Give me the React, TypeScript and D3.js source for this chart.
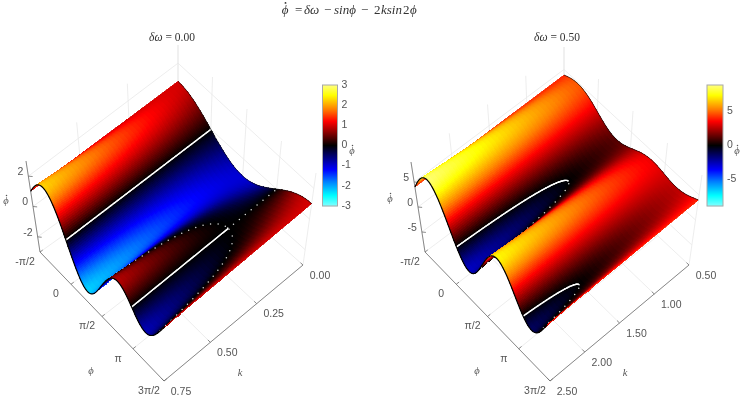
import React, { useMemo } from "react";
import * as d3 from "d3";

// Values at steps of pi/8 in phi (17 columns, first column = -pi/2)
const phiTickMultiples = [-0.5, 0, 0.5, 1, 1.5];
const phiTickLabels = ["-π/2", "0", "π/2", "π", "3π/2"];
const phiGridCount = 17;

const leftK = [0, 0.25, 0.5, 0.75];
const leftRow0 = [1, 0.924, 0.707, 0.383, 0, -0.383, -0.707, -0.924, -1, -0.924, -0.707, -0.383, 0, 0.383, 0.707, 0.924, 1];
const leftRow1 = [1, 1.278, 1.207, 0.737, 0, -0.737, -1.207, -1.278, -1, -0.57, -0.207, -0.029, 0, 0.029, 0.207, 0.57, 1];
const leftRow2 = [1, 1.631, 1.707, 1.09, 0, -1.09, -1.707, -1.631, -1, -0.217, 0.293, 0.324, 0, -0.324, -0.293, 0.217, 1];
const leftRow3 = [1, 1.985, 2.207, 1.444, 0, -1.444, -2.207, -1.985, -1, 0.137, 0.793, 0.678, 0, -0.678, -0.793, -0.137, 1];
const leftKTicks = ["0.00", "0.25", "0.50", "0.75"];
const leftZTicks = [-2, 0, 2];
const leftBarTicks = [-3, -2, -1, 0, 1, 2, 3];

const rightK = [0.5, 1, 1.5, 2, 2.5];
const rightRow0 = [4, 4.631, 4.707, 4.09, 3, 1.91, 1.293, 1.369, 2, 2.783, 3.293, 3.324, 3, 2.676, 2.707, 3.217, 4];
const rightRow1 = [4, 5.338, 5.707, 4.797, 3, 1.203, 0.293, 0.662, 2, 3.49, 4.293, 4.031, 3, 1.969, 1.707, 2.51, 4];
const rightRow2 = [4, 6.045, 6.707, 5.504, 3, 0.496, -0.707, -0.045, 2, 4.197, 5.293, 4.738, 3, 1.262, 0.707, 1.803, 4];
const rightRow3 = [4, 6.752, 7.707, 6.211, 3, -0.211, -1.707, -0.752, 2, 4.904, 6.293, 5.445, 3, 0.555, -0.293, 1.096, 4];
const rightRow4 = [4, 7.46, 8.707, 6.919, 3, -0.919, -2.707, -1.46, 2, 5.612, 7.293, 6.153, 3, -0.153, -1.293, 0.388, 4];
const rightKTicks = ["0.50", "1.00", "1.50", "2.00", "2.50"];
const rightZTicks = [-5, 0, 5];
const rightBarTicks = [-5, 0, 5];

const colorStops = [-1, -0.83, -0.6, -0.4, 0, 0.4, 0.6, 0.83, 1];
const colorValues = ["#80ffff", "#00ffff", "#0080ff", "#0000ff", "#000000", "#ff0000", "#ff8000", "#ffff00", "#ffff80"];

type Pt = [number, number];
const SANS = "Liberation Sans, Arial, sans-serif";
const SERIF = "Liberation Serif, DejaVu Serif, serif";
const INK = "#555";
const mix = (a: Pt, b: Pt, t: number): Pt => [a[0] + (b[0] - a[0]) * t, a[1] + (b[1] - a[1]) * t];
const PI = Math.PI;

// Smooth resampling of one table row between its columns, for drawing only
function resample(row: number[], fi: number) {
  const p = phiGridCount - 1;
  const base = Math.floor(fi);
  if (fi === base) return row[((base % p) + p) % p];
  let sum = 0;
  for (let a = base - 2; a <= base + 3; a++) {
    let w = 1;
    for (let b = base - 2; b <= base + 3; b++) if (b !== a) w *= (fi - b) / (a - b);
    sum += w * row[((a % p) + p) % p];
  }
  return sum;
}

interface Layout {
  A: Pt; B: Pt; C: Pt; D: Pt; TA: Pt; TB: Pt; TC: Pt; TD: Pt;
  zDomain: [number, number]; clim: number; barX: number; barW: number;
  phiLabel: Pt; kLabel: Pt; zLabel: Pt; barLabel: Pt; titleX: number; titleText: string;
}

function DotPhi({ x, y, size, fill }: { x: number; y: number; size: number; fill: string }) {
  return (
    <g fill={fill}>
      <text x={x} y={y} fontFamily={SERIF} fontStyle="italic" fontSize={size} textAnchor="middle" dominantBaseline="middle">ϕ</text>
      <circle cx={x + 0.5} cy={y - size * 0.62} r={size * 0.07} />
    </g>
  );
}

function Panel({ rows, ks, kTicks, zTicks, barTicks, L }: { rows: number[][]; ks: number[]; kTicks: string[]; zTicks: number[]; barTicks: number[]; L: Layout }) {
  const built = useMemo(() => {
    const uScale = d3.scaleLinear().domain([-PI / 2, (3 * PI) / 2]).range([0, 1]);
    const vScale = d3.scaleLinear().domain([ks[0], ks[ks.length - 1]]).range([0, 1]);
    const wScale = d3.scaleLinear().domain(L.zDomain).range([0, 1]);
    const color = d3.scaleLinear<string>().domain(colorStops.map((d) => d * L.clim)).range(colorValues).clamp(true);
    const kRow = d3.scaleLinear().domain(ks).range(ks.map((_, i) => i));
    const project = (u: number, v: number, z: number): Pt => {
      const floor = mix(mix(L.D, L.C, u), mix(L.A, L.B, u), v);
      const top = mix(mix(L.TD, L.TC, u), mix(L.TA, L.TB, u), v);
      return mix(floor, top, wScale(z));
    };
    const zAt = (fi: number, k: number) => {
      const r = Math.min(ks.length - 2, Math.max(0, Math.floor(kRow(k))));
      const t = (k - ks[r]) / (ks[r + 1] - ks[r]);
      return resample(rows[r], fi) * (1 - t) + resample(rows[r + 1], fi) * t;
    };
    const p = phiGridCount - 1;
    const nPhi = 224;
    const nK = 40;
    const kv = (j: number) => ks[0] + ((ks[ks.length - 1] - ks[0]) * j) / nK;
    const grid: number[][] = [];
    for (let i = 0; i <= nPhi; i++) {
      const col: number[] = [];
      for (let j = 0; j <= nK; j++) col.push(zAt((i * p) / nPhi, kv(j)));
      grid.push(col);
    }
    const pos = (i: number, j: number) => project(i / nPhi, j / nK, grid[i][j]);

    const layers: React.ReactNode[][] = d3.range(nPhi + 4).map(() => []);
    for (let i = 0; i < nPhi; i++) {
      for (let j = 0; j < nK; j++) {
        const a = pos(i, j), b = pos(i + 1, j), c = pos(i + 1, j + 1), e = pos(i, j + 1);
        const col = color((grid[i][j] + grid[i + 1][j] + grid[i + 1][j + 1] + grid[i][j + 1]) / 4);
        layers[i].push(
          <path key={`c${i}-${j}`} d={`M${a[0].toFixed(2)},${a[1].toFixed(2)}L${b[0].toFixed(2)},${b[1].toFixed(2)}L${c[0].toFixed(2)},${c[1].toFixed(2)}L${e[0].toFixed(2)},${e[1].toFixed(2)}Z`} fill={col} stroke={col} strokeWidth={0.7} shapeRendering="crispEdges" />
        );
      }
    }

    // Zero contours, solid where the slope along phi is falling, dotted otherwise
    const cPhi = 288, cK = 160;
    const values: number[] = [];
    for (let j = 0; j <= cK; j++) {
      const k = ks[0] + ((ks[ks.length - 1] - ks[0]) * j) / cK;
      for (let i = 0; i <= cPhi; i++) values.push(zAt((i * p) / cPhi, k));
    }
    const dx = cPhi + 1, dy = cK + 1;
    const contour = d3.contours().size([dx, dy]).thresholds([1e-9])(values)[0];
    const onBorder = (q: number[]) => q[0] <= 0 || q[0] >= dx || q[1] <= 0 || q[1] >= dy;
    const toData = (q: number[]) => {
      const fi = (Math.min(cPhi, Math.max(0, q[0] - 0.5)) * p) / cPhi;
      const k = ks[0] + ((ks[ks.length - 1] - ks[0]) * Math.min(cK, Math.max(0, q[1] - 0.5))) / cK;
      return { fi, k };
    };
    let key = 0;
    contour.coordinates.forEach((poly: number[][][]) => poly.forEach((ring: number[][]) => {
      let walked = 0;
      let nextDot = 3;
      for (let n = 0; n + 1 < ring.length; n++) {
        const a = ring[n], b = ring[n + 1];
        if (onBorder(a) && onBorder(b)) continue;
        const da = toData(a), db = toData(b);
        const fm = (da.fi + db.fi) / 2, km = (da.k + db.k) / 2;
        const slope = zAt(fm + 0.02, km) - zAt(fm - 0.02, km);
        const pa = project(da.fi / p, vScale(da.k), 0), pb = project(db.fi / p, vScale(db.k), 0);
        const len = Math.hypot(pb[0] - pa[0], pb[1] - pa[1]);
        const layer = Math.min(nPhi + 3, Math.ceil((fm / p) * nPhi) + 3);
        if (slope < 0) {
          layers[layer].push(<line key={`s${key++}`} x1={pa[0]} y1={pa[1]} x2={pb[0]} y2={pb[1]} stroke="#fff" strokeWidth={1.4} strokeLinecap="round" />);
        } else {
          while (nextDot <= walked + len) {
            const t = (nextDot - walked) / (len || 1);
            const q = mix(pa, pb, t);
            layers[layer].push(<circle key={`d${key++}`} cx={q[0]} cy={q[1]} r={0.75} fill="#d8d8d8" />);
            nextDot += 7.6;
          }
          walked += len;
        }
      }
    }));

    const line = d3.line<Pt>();
    const backEdge: Pt[] = d3.range(nPhi + 1).map((i) => pos(i, 0));
    const frontEdge: Pt[] = d3.range(nPhi + 1).map((i) => pos(i, nK));

    // Walls and floor
    const [zLo, zHi] = L.zDomain;
    const seg = (a: Pt, b: Pt) => `M${a[0]},${a[1]}L${b[0]},${b[1]}`;
    const gridLines: string[] = [];
    phiTickMultiples.forEach((m) => {
      const u = uScale(m * PI);
      gridLines.push(seg(project(u, 0, zLo), project(u, 1, zLo)));
      gridLines.push(seg(project(u, 0, zLo), project(u, 0, zHi)));
    });
    ks.forEach((k) => {
      const v = vScale(k);
      gridLines.push(seg(project(0, v, zLo), project(1, v, zLo)));
      gridLines.push(seg(project(0, v, zLo), project(0, v, zHi)));
    });
    zTicks.forEach((z) => {
      gridLines.push(seg(project(0, 1, z), project(0, 0, z)));
      gridLines.push(seg(project(0, 0, z), project(1, 0, z)));
    });
    const axisLines = [
      seg(project(0, 1, zLo), project(1, 1, zLo)),
      seg(project(1, 1, zLo), project(1, 0, zLo)),
      seg(project(0, 1, zLo), project(0, 1, zHi)),
    ];
    phiTickMultiples.forEach((m) => axisLines.push(seg(project(uScale(m * PI), 1, zLo), project(uScale(m * PI), 0.98, zLo))));
    ks.forEach((k) => axisLines.push(seg(project(1, vScale(k), zLo), project(0.98, vScale(k), zLo))));
    zTicks.forEach((z) => axisLines.push(seg(project(0, 1, z), project(0.015, 0.985, z))));

    const phiLabelPos = phiTickMultiples.map((m) => project(uScale(m * PI), 1, zLo));
    const kLabelPos = ks.map((k) => project(1, vScale(k), zLo));
    const zLabelPos = zTicks.map((z) => project(0, 1, z));

    const barTop = 85, barBottom = 206;
    const barY = d3.scaleLinear().domain([-L.clim, L.clim]).range([barBottom, barTop]);
    const barRows = d3.range(barTop, barBottom).map((y) => (
      <rect key={y} x={L.barX} y={y} width={L.barW} height={1.2} fill={color(barY.invert(y + 0.5))} />
    ));
    return { layers, backPath: line(backEdge)!, frontPath: line(frontEdge)!, gridLines, axisLines, phiLabelPos, kLabelPos, zLabelPos, barRows, barY, barTop, barBottom };
  }, []);

  return (
    <g>
      <path d={built.gridLines.join("")} stroke="#e9e9e9" strokeWidth={0.8} fill="none" />
      <path d={built.axisLines.join("")} stroke="#6e6e6e" strokeWidth={0.8} fill="none" />
      <g>{built.layers}</g>
      <path d={built.backPath} stroke="#111" strokeWidth={0.8} fill="none" />
      <path d={built.frontPath} stroke="#000" strokeWidth={1.2} fill="none" strokeLinejoin="round" />
      <g fontFamily={SANS} fontSize={10.5} fill={INK}>
        {phiTickLabels.map((t, i) => {
          const q = built.phiLabelPos[i];
          return <text key={t} x={q[0] - 15} y={q[1] + 10} textAnchor="middle" dominantBaseline="middle">{t}</text>;
        })}
        {kTicks.map((t, i) => {
          const q = built.kLabelPos[i];
          return <text key={t} x={q[0] + 17} y={q[1] + 11} textAnchor="middle" dominantBaseline="middle">{t}</text>;
        })}
        {zTicks.map((z, i) => {
          const q = built.zLabelPos[i];
          return <text key={z} x={q[0] - 5} y={q[1] - 4} textAnchor="end" dominantBaseline="middle">{z}</text>;
        })}
        {barTicks.map((z) => (
          <text key={z} x={L.barX + L.barW + 4} y={built.barY(z)} dominantBaseline="middle">{z}</text>
        ))}
      </g>
      <g>{built.barRows}</g>
      <rect x={L.barX} y={built.barTop} width={L.barW} height={built.barBottom - built.barTop} fill="none" stroke="#a8a8a8" strokeWidth={1} />
      <text x={L.phiLabel[0]} y={L.phiLabel[1]} fontFamily={SERIF} fontStyle="italic" fontSize={10.5} fill={INK} textAnchor="middle" dominantBaseline="middle">ϕ</text>
      <text x={L.kLabel[0]} y={L.kLabel[1]} fontFamily={SERIF} fontStyle="italic" fontSize={10.5} fill={INK} textAnchor="middle" dominantBaseline="middle">k</text>
      <DotPhi x={L.zLabel[0]} y={L.zLabel[1]} size={10.5} fill={INK} />
      <DotPhi x={L.barLabel[0]} y={L.barLabel[1]} size={10.5} fill={INK} />
      <text x={L.titleX} y={38} fontFamily={SERIF} fontSize={11.5} fill="#333" textAnchor="middle" dominantBaseline="middle">
        <tspan fontStyle="italic">δω</tspan> = {L.titleText}
      </text>
    </g>
  );
}

const leftLayout: Layout = {
  A: [40, 252], B: [164, 381], C: [303, 265], D: [178, 154],
  TA: [26, 161], TB: [165, 300], TC: [316, 173], TD: [178, 45],
  zDomain: [-3, 3], clim: 3, barX: 322.5, barW: 15,
  phiLabel: [91, 372], kLabel: [240, 374], zLabel: [6, 202], barLabel: [352, 152], titleX: 172, titleText: "0.00",
};
const rightLayout: Layout = {
  A: [425, 252], B: [550, 381], C: [689, 265], D: [564, 148],
  TA: [411, 162], TB: [546, 303], TC: [702, 175], TD: [564, 47],
  zDomain: [-9, 9], clim: 8.9, barX: 707, barW: 16,
  phiLabel: [477, 372], kLabel: [625, 374], zLabel: [390, 200], barLabel: [737, 152], titleX: 557, titleText: "0.50",
};

const titleTokens: [string, number, boolean][] = [
  ["=", 295, false], ["δω", 304, true], ["−", 324, false], ["sinϕ", 334, true],
  ["−", 361, false], ["2", 374, false], ["ksin", 381, true], ["2", 403, false], ["ϕ", 410, true],
];

export default function App() {
  return (
    <svg width={743} height={399} style={{ position: "absolute", left: 0, top: 0, display: "block", willChange: "transform" }}>
      {titleTokens.map(([t, x, it]) => (
        <text key={`${t}${x}`} x={x} y={11} fontFamily={SERIF} fontSize={13} fill="#333" fontStyle={it ? "italic" : "normal"} dominantBaseline="middle">{t}</text>
      ))}
      <DotPhi x={285} y={11} size={13} fill="#333" />
      <Panel rows={[leftRow0, leftRow1, leftRow2, leftRow3]} ks={leftK} kTicks={leftKTicks} zTicks={leftZTicks} barTicks={leftBarTicks} L={leftLayout} />
      <Panel rows={[rightRow0, rightRow1, rightRow2, rightRow3, rightRow4]} ks={rightK} kTicks={rightKTicks} zTicks={rightZTicks} barTicks={rightBarTicks} L={rightLayout} />
    </svg>
  );
}
